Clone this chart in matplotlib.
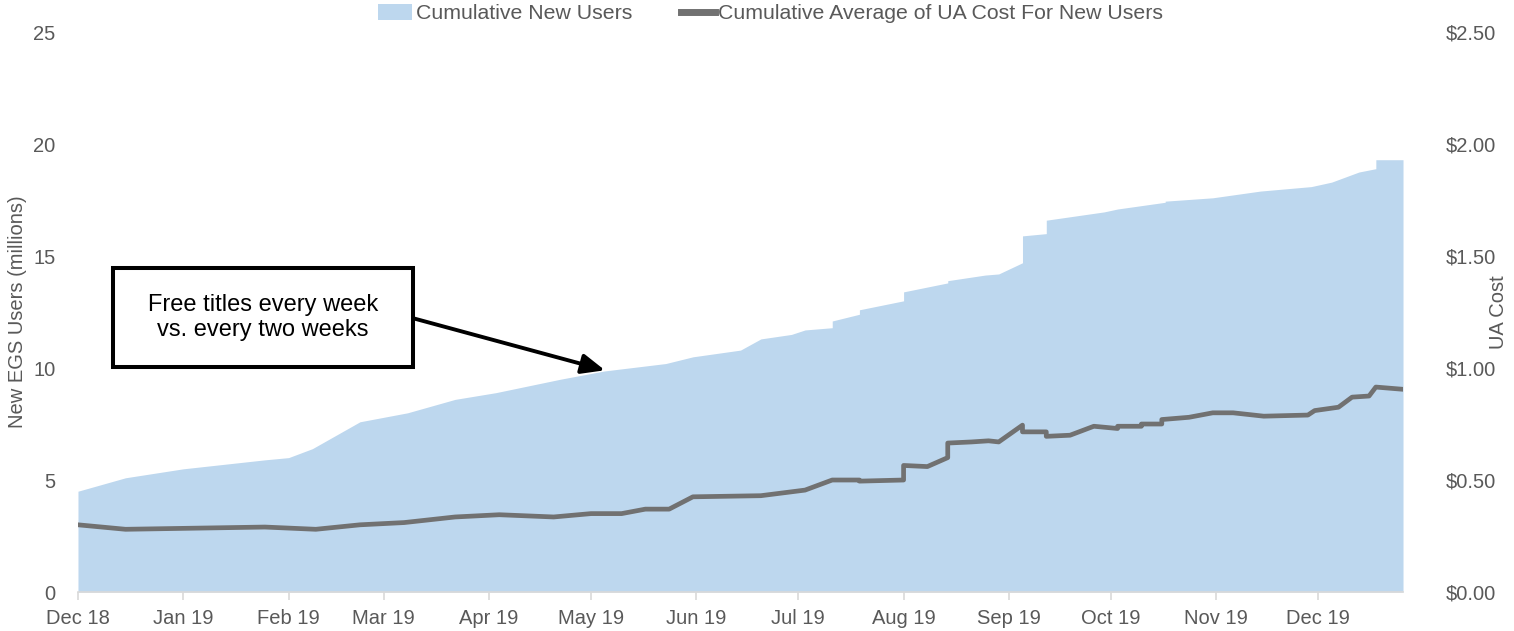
import numpy as np
import pandas as pd
import matplotlib
matplotlib.use("Agg")
import matplotlib.pyplot as plt
import matplotlib.dates as mdates
from matplotlib.patches import Patch, Rectangle
from matplotlib.lines import Line2D
from matplotlib.ticker import FuncFormatter

plt.rcParams['font.family'] = ['Liberation Sans', 'DejaVu Sans']

# cumulative new users (millions); repeated dates make the weekly steps
user_dates = ['2018-12-01', '2018-12-15', '2019-01-01', '2019-01-25', '2019-02-01',
              '2019-02-08', '2019-02-22', '2019-03-08', '2019-03-22', '2019-04-03',
              '2019-04-22', '2019-05-05', '2019-05-23', '2019-05-31', '2019-06-14',
              '2019-06-20', '2019-06-29', '2019-07-03', '2019-07-11', '2019-07-11',
              '2019-07-19', '2019-07-19', '2019-08-01', '2019-08-01', '2019-08-14',
              '2019-08-14', '2019-08-25', '2019-08-29', '2019-09-05', '2019-09-05',
              '2019-09-12', '2019-09-12', '2019-09-29', '2019-10-03', '2019-10-17',
              '2019-10-17', '2019-10-31', '2019-11-14', '2019-11-29', '2019-12-05',
              '2019-12-13', '2019-12-18', '2019-12-18', '2019-12-26']
new_users = [4.5, 5.1, 5.5, 5.9, 6.0,
             6.4, 7.6, 8.0, 8.6, 8.9,
             9.5, 9.87, 10.2, 10.5, 10.8,
             11.3, 11.5, 11.7, 11.8, 12.1,
             12.4, 12.6, 13.0, 13.4, 13.8,
             13.9, 14.15, 14.2, 14.7, 15.9,
             16.0, 16.6, 16.97, 17.1, 17.4,
             17.45, 17.6, 17.9, 18.1, 18.3,
             18.75, 18.9, 19.3, 19.3]

# cumulative average UA cost per new user ($)
cost_dates = ['2018-12-01', '2018-12-15', '2019-01-25', '2019-02-09', '2019-02-22',
              '2019-03-07', '2019-03-22', '2019-04-04', '2019-04-20', '2019-05-01',
              '2019-05-10', '2019-05-17', '2019-05-24', '2019-05-31', '2019-06-20',
              '2019-07-03', '2019-07-11', '2019-07-19', '2019-07-19', '2019-08-01',
              '2019-08-01', '2019-08-08', '2019-08-14', '2019-08-14', '2019-08-21',
              '2019-08-26', '2019-08-29', '2019-09-05', '2019-09-05', '2019-09-12',
              '2019-09-12', '2019-09-19', '2019-09-26', '2019-10-03', '2019-10-03',
              '2019-10-10', '2019-10-10', '2019-10-16', '2019-10-16', '2019-10-24',
              '2019-10-31', '2019-11-06', '2019-11-15', '2019-11-28', '2019-11-30',
              '2019-12-07', '2019-12-11', '2019-12-16', '2019-12-18', '2019-12-26']
ua_cost = [0.30, 0.28, 0.29, 0.28, 0.30,
           0.31, 0.335, 0.345, 0.335, 0.35,
           0.35, 0.37, 0.37, 0.425, 0.43,
           0.455, 0.50, 0.50, 0.495, 0.50,
           0.565, 0.56, 0.60, 0.665, 0.67,
           0.675, 0.67, 0.745, 0.715, 0.715,
           0.695, 0.70, 0.74, 0.73, 0.74,
           0.74, 0.75, 0.75, 0.77, 0.78,
           0.80, 0.80, 0.785, 0.79, 0.81,
           0.825, 0.87, 0.875, 0.915, 0.905]

user_dates = pd.to_datetime(user_dates)
cost_dates = pd.to_datetime(cost_dates)

AREA = '#BDD7EE'
LINE = '#717171'
TXT = '#595959'
FS = 14.5

fig = plt.figure(figsize=(15.14, 6.31), dpi=100)
ax = fig.add_axes([0.0515, 0.0618, 0.8752, 0.8874])
ax.fill_between(user_dates, 0, new_users, color=AREA, linewidth=0)
ax.set_ylim(0, 25)
ax.set_yticks([0, 5, 10, 15, 20, 25])
ax.set_xlim(pd.Timestamp('2018-12-01'), pd.Timestamp('2019-12-26'))
ax.xaxis.set_major_locator(mdates.MonthLocator())
ax.xaxis.set_major_formatter(mdates.DateFormatter('%b %y'))
for s in ['top', 'right', 'left']:
    ax.spines[s].set_visible(False)
ax.spines['bottom'].set_color('#d9d9d9')
ax.spines['bottom'].set_linewidth(1.2)
ax.tick_params(axis='x', colors='#d9d9d9', labelcolor=TXT, labelsize=FS,
               length=6, width=1.2, pad=6)
ax.tick_params(axis='y', length=0, labelcolor=TXT, labelsize=FS, pad=16)
ax.set_ylabel('New EGS Users (millions)', color=TXT, fontsize=14.5)
ax.yaxis.set_label_coords(-0.0385, 0.5)

ax2 = ax.twinx()
ax2.plot(cost_dates, ua_cost, color=LINE, lw=3.4)
ax2.set_ylim(0, 2.5)
ax2.set_yticks([0, 0.5, 1.0, 1.5, 2.0, 2.5])
ax2.yaxis.set_major_formatter(FuncFormatter(lambda v, p: '${:.2f}'.format(v)))
for s in ['top', 'right', 'left', 'bottom']:
    ax2.spines[s].set_visible(False)
ax2.tick_params(axis='y', length=0, labelcolor=TXT, labelsize=FS, pad=31)
ax2.set_ylabel('UA Cost', color=TXT, fontsize=14.5)
ax2.yaxis.set_label_coords(1.065, 0.5)

# callout box with arrow
ax2.add_patch(Rectangle((0.0264, 0.4018), 0.2264, 0.1768, transform=ax2.transAxes,
                        facecolor='white', edgecolor='black', lw=2.9, zorder=5))
ax2.text(0.1396, 0.49, 'Free titles every week\nvs. every two weeks',
         transform=ax2.transAxes, ha='center', va='center', fontsize=17,
         color='black', linespacing=1.15, zorder=6)
ax2.annotate('', xy=(0.3977, 0.396), xytext=(0.2528, 0.489),
             xycoords='axes fraction', textcoords='axes fraction',
             arrowprops=dict(arrowstyle='-|>,head_length=1.4,head_width=0.6',
                             color='black', lw=2.8, shrinkA=0, shrinkB=0),
             zorder=6)

handles = [Patch(facecolor=AREA, edgecolor='none'),
           Line2D([], [], color=LINE, lw=5)]
fig.legend(handles, ['Cumulative New Users', 'Cumulative Average of UA Cost For New Users'],
           loc='center', bbox_to_anchor=(0.509, 0.978), ncol=2, frameon=False,
           fontsize=15.3, labelcolor=TXT, handlelength=1.6, handletextpad=0.15,
           columnspacing=2.3, handleheight=0.75)

fig.savefig('out.png', dpi=100)
